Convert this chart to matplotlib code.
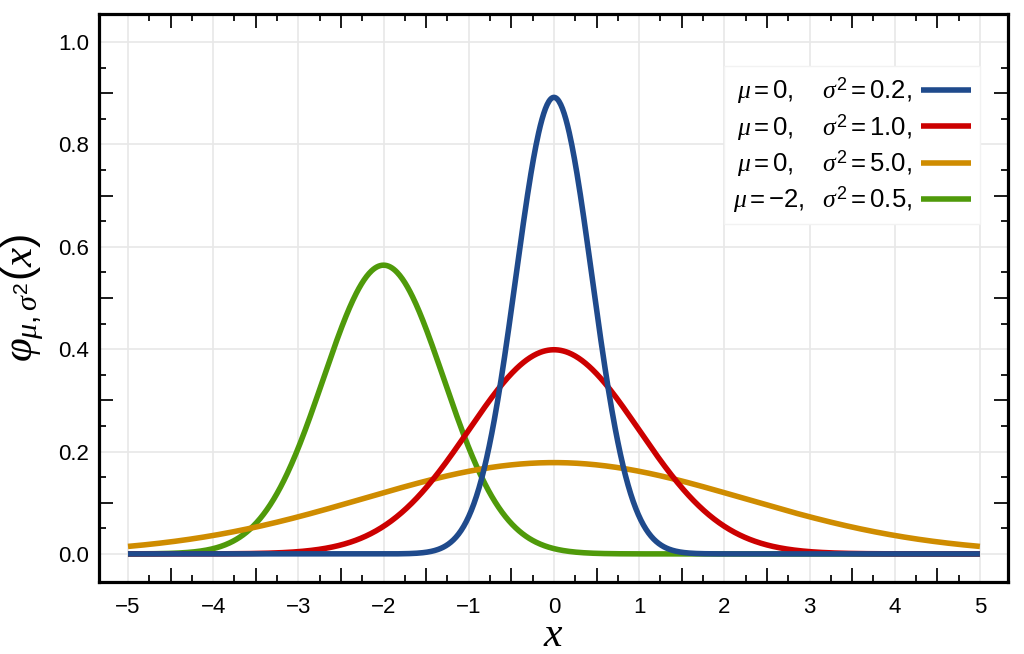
import numpy as np
import matplotlib
matplotlib.use("Agg")
import matplotlib.pyplot as plt
from matplotlib.ticker import FixedLocator, FormatStrFormatter

# parameters of the four normal densities
mu = [0, 0, 0, -2]
sigma2 = [0.2, 1.0, 5.0, 0.5]
labels = [r"$\mu=0,\hspace{1.33}\sigma^{2}=0.2,$",
          r"$\mu=0,\hspace{1.33}\sigma^{2}=1.0,$",
          r"$\mu=0,\hspace{1.33}\sigma^{2}=5.0,$",
          r"$\mu=-2,\hspace{0.75}\sigma^{2}=0.5,$"]
colors = ["#1f4a8c", "#cc0000", "#cf8c00", "#4f9a0a"]
x_ticks = [-5, -4, -3, -2, -1, 0, 1, 2, 3, 4, 5]
y_ticks = [0.0, 0.2, 0.4, 0.6, 0.8, 1.0]

plt.rcParams["font.family"] = ["Liberation Sans", "DejaVu Sans"]
plt.rcParams["mathtext.fontset"] = "custom"
plt.rcParams["mathtext.rm"] = "Liberation Sans"
plt.rcParams["mathtext.it"] = "Liberation Serif:italic"
plt.rcParams["mathtext.bf"] = "Liberation Sans:bold"

fig = plt.figure(figsize=(10.24, 6.54), dpi=100)
ax = fig.add_axes([0.0967, 0.110, 0.8877, 0.8686])

x = np.linspace(x_ticks[0], x_ticks[-1], 1001)
# draw green first so blue ends on top
for m, s2, c, lab in reversed(list(zip(mu, sigma2, colors, labels))):
    pdf = np.exp(-(x - m) ** 2 / (2 * s2)) / np.sqrt(2 * np.pi * s2)
    ax.plot(x, pdf, color=c, lw=4.0, label=lab, solid_capstyle="butt")

ax.set_xlim(-5.34, 5.33)
ax.set_ylim(-0.055, 1.055)

ax.xaxis.set_major_locator(FixedLocator(x_ticks))
ax.yaxis.set_major_locator(FixedLocator(y_ticks))
ax.yaxis.set_major_formatter(FormatStrFormatter("%.1f"))
xminor = [v for v in np.arange(-4.75, 4.8, 0.25) if abs(v - round(v)) > 1e-6]
yminor = [v for v in np.arange(0.05, 0.96, 0.05) if abs(v / 0.2 - round(v / 0.2)) > 1e-6]
ax.xaxis.set_minor_locator(FixedLocator(xminor))
ax.yaxis.set_minor_locator(FixedLocator(yminor))

ax.tick_params(which="both", direction="in", top=True, right=True, color="#1a1a1a", width=1.4)
ax.tick_params(which="major", length=0, labelsize=16)
ax.tick_params(axis="x", which="major", pad=11)
ax.tick_params(axis="y", which="major", pad=7)
ax.tick_params(which="minor", length=5)

# long ticks half way between labels
for axis, step in ((ax.xaxis, 0.5), (ax.yaxis, 0.1)):
    locs = axis.get_minorticklocs()
    for loc, t in zip(locs, axis.get_minor_ticks(len(locs))):
        r = loc / step
        if abs(r - round(r)) < 1e-6 and round(r) % 2 != 0:
            t.tick1line.set_markersize(10)
            t.tick2line.set_markersize(10)

ax.grid(True, which="major", color="#e8e8e8", lw=1.2)
ax.set_axisbelow(True)
for sp in ax.spines.values():
    sp.set_linewidth(2.3)
    sp.set_color("black")

ax.set_xlabel(r"$x$", fontsize=30)
ax.xaxis.set_label_coords(0.5, -0.058)
ax.set_ylabel(r"$\varphi_{\mu,\sigma^{2}}(x)$", fontsize=31)
ax.yaxis.set_label_coords(-0.058, 0.5)

handles, labs = ax.get_legend_handles_labels()
leg = ax.legend(handles[::-1], labs[::-1], loc="upper right", bbox_to_anchor=(0.969, 0.908),
                markerfirst=False, fontsize=18.5, handlelength=1.95, handletextpad=0.35,
                labelspacing=0.22, borderpad=0.35, borderaxespad=0, frameon=True,
                fancybox=False, framealpha=1, facecolor="white", edgecolor="#f2f2f2")
for h in leg.legend_handles:
    h.set_linewidth(4.0)

fig.savefig("out.png", dpi=100)
